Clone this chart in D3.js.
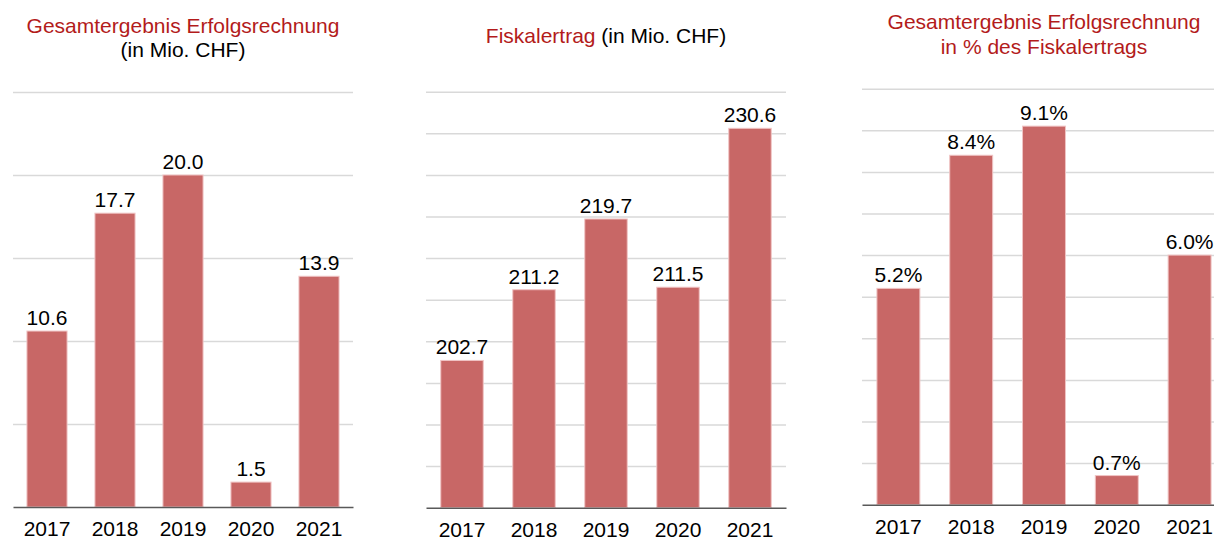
<!DOCTYPE html>
<html lang="de">
<head>
<meta charset="utf-8">
<title>Gesamtergebnis und Fiskalertrag</title>
<script src="https://d3js.org/d3.v7.min.js"></script>
<style>
  body { margin: 0; background: #fff; }
  svg text { font-family: "Liberation Sans", Arial, sans-serif; }
</style>
</head>
<body>
<div id="chart"></div>
<script>
// Data
var years = ["2017", "2018", "2019", "2020", "2021"];
var ergebnis = [10.6, 17.7, 20.0, 1.5, 13.9];        // Mio. CHF
var fiskalertrag = [202.7, 211.2, 219.7, 211.5, 230.6]; // Mio. CHF
var anteil = [5.2, 8.4, 9.1, 0.7, 6.0];               // %
var ergebnisTicks = [0, 5, 10, 15, 20, 25];
var fiskalTicks = [185, 190, 195, 200, 205, 210, 215, 220, 225, 230, 235];
var anteilTicks = [0, 1, 2, 3, 4, 5, 6, 7, 8, 9, 10];

var W = 1214, H = 541;
var red = "#b31b1b";
var fontSize = 21;

var svg = d3.select("#chart").append("svg")
  .attr("width", W)
  .attr("height", H);

// one panel per chart
var panels = [
  { values: ergebnis, ticks: ergebnisTicks, x0: 13, x1: 353, yTop: 92, yBase: 507,
    fmt: d3.format(".1f"),
    title: [[{ t: "Gesamtergebnis Erfolgsrechnung", c: red }], [{ t: "(in Mio. CHF)", c: "#000" }]],
    titleY: [33, 57] },
  { values: fiskalertrag, ticks: fiskalTicks, x0: 426, x1: 786, yTop: 91.7, yBase: 507.7,
    fmt: d3.format(".1f"),
    title: [[{ t: "Fiskalertrag", c: red }, { t: " (in Mio. CHF)", c: "#000" }]],
    titleY: [43] },
  { values: anteil, ticks: anteilTicks, x0: 862, x1: 1226, yTop: 88.7, yBase: 504.7,
    fmt: function(d) { return d3.format(".1f")(d) + "%"; },
    title: [[{ t: "Gesamtergebnis Erfolgsrechnung", c: red }], [{ t: "in % des Fiskalertrags", c: red }]],
    titleY: [29, 54] }
];

panels.forEach(function(p) {
  var g = svg.append("g");

  var x = d3.scaleBand()
    .domain(years)
    .range([p.x0, p.x1])
    .paddingInner(0.41)
    .paddingOuter(0.205);

  var y = d3.scaleLinear()
    .domain(d3.extent(p.ticks))
    .range([p.yBase, p.yTop]);

  // gridlines
  g.append("g")
    .attr("transform", "translate(" + p.x0 + ",0)")
    .call(d3.axisLeft(y).tickValues(p.ticks.slice(1)).tickSize(-(p.x1 - p.x0)).tickFormat(""))
    .call(function(s) {
      s.select(".domain").remove();
      s.selectAll("line").attr("stroke", "#d9d9d9").attr("stroke-width", 1.5);
    });

  // bars
  g.selectAll("rect.bar")
    .data(p.values)
    .enter().append("rect")
    .attr("class", "bar")
    .attr("x", function(d, i) { return x(years[i]); })
    .attr("width", x.bandwidth())
    .attr("y", function(d) { return y(d); })
    .attr("height", function(d) { return y(y.domain()[0]) - y(d); })
    .attr("fill", "#c86766")
    .attr("stroke", "#f0c4c4")
    .attr("stroke-width", 1);

  // value labels
  g.selectAll("text.val")
    .data(p.values)
    .enter().append("text")
    .attr("class", "val")
    .attr("x", function(d, i) { return x(years[i]) + x.bandwidth() / 2; })
    .attr("y", function(d) { return y(d) - 6; })
    .attr("text-anchor", "middle")
    .attr("font-size", fontSize)
    .attr("fill", "#000")
    .text(function(d) { return p.fmt(d); });

  // x axis
  g.append("g")
    .attr("transform", "translate(0," + p.yBase + ")")
    .call(d3.axisBottom(x).tickSize(0).tickPadding(14))
    .call(function(s) {
      s.select(".domain").attr("stroke", "#595959").attr("stroke-width", 1.5);
      s.selectAll("text")
        .attr("font-size", fontSize)
        .attr("fill", "#000")
        .attr("font-family", "Liberation Sans, Arial, sans-serif");
    });

  // title
  var cx = (p.x0 + p.x1) / 2;
  p.title.forEach(function(line, li) {
    var t = g.append("text")
      .attr("x", cx)
      .attr("y", p.titleY[li])
      .attr("text-anchor", "middle")
      .attr("font-size", fontSize);
    line.forEach(function(part) {
      t.append("tspan").attr("fill", part.c).text(part.t);
    });
  });
});
</script>
</body>
</html>
